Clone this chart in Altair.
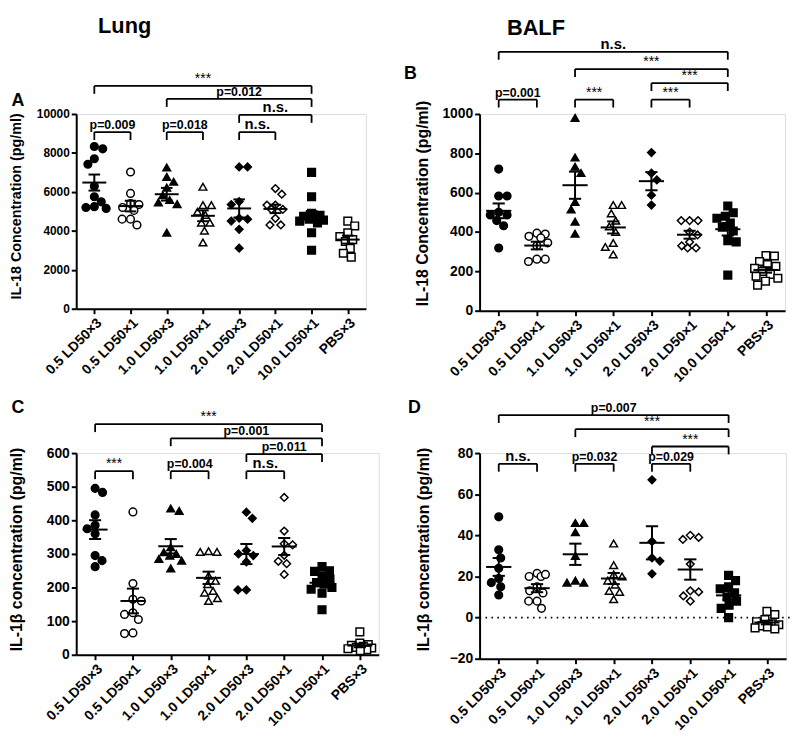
import json
import altair as alt
import numpy as np
import pandas as pd

FONT = "Liberation Sans"

groups = ["0.5 LD50×3", "0.5 LD50×1", "1.0 LD50×3", "1.0 LD50×1",
          "2.0 LD50×3", "2.0 LD50×1", "10.0 LD50×1", "PBS×3"]
shapes = ["circle", "circle", "triangle-up", "triangle-up",
          "diamond", "diamond", "square", "square"]
filled = [True, False, True, False, True, False, True, False]

# IL-18, lung (pg/ml)
lung_il18 = [
    [8330, 8210, 7700, 7420, 6290, 5750, 5490, 5240, 5200, 5150],
    [7020, 5920, 5400, 5350, 5200, 5050, 4600, 4600, 4300],
    [7250, 6770, 6520, 6220, 5830, 5580, 5460, 5370, 3910],
    [6260, 5320, 5320, 4980, 4810, 4420, 4420, 4010, 3400],
    [7280, 7280, 5500, 5350, 4650, 4600, 4500, 4080, 3110],
    [6170, 5880, 5320, 5320, 5100, 5100, 4640, 4300, 4300],
    [7000, 5750, 4900, 4800, 4750, 4700, 4600, 4550, 4500, 4400, 3900, 3000],
    [4500, 4250, 3900, 3700, 3550, 3450, 3100, 2850, 2650],
]
# IL-18, BALF (pg/ml)
balf_il18 = [
    [720, 583, 583, 500, 487, 487, 458, 432, 319],
    [394, 390, 378, 370, 345, 330, 262, 250, 262],
    [980, 779, 732, 700, 553, 515, 453, 391],
    [537, 537, 495, 458, 428, 400, 344, 324, 286],
    [804, 699, 665, 587, 537],
    [458, 458, 458, 400, 385, 349, 330, 319, 319],
    [532, 498, 480, 470, 445, 425, 405, 356, 350, 181],
    [280, 278, 250, 235, 225, 215, 200, 185, 175, 165, 150, 130],
]
# IL-1beta, lung (pg/ml)
lung_il1b = [
    [495, 483, 416, 385, 375, 360, 295, 280, 262],
    [425, 212, 165, 160, 125, 120, 105, 65, 63],
    [435, 428, 320, 305, 300, 295, 285, 280, 257],
    [308, 306, 306, 235, 220, 210, 190, 185, 168, 160],
    [424, 406, 310, 300, 295, 276, 193, 193],
    [468, 368, 330, 327, 296, 278, 271, 239],
    [262, 250, 248, 235, 225, 215, 210, 200, 195, 183, 134],
    [68, 35, 30, 28, 25, 22, 20, 18, 15, 12],
]
# IL-1beta, BALF (pg/ml)
balf_il1b = [
    [49, 33, 29, 24, 19, 17, 15, 11],
    [21.5, 20, 20, 21, 15, 13, 12, 8, 8, 4.5],
    [46, 46, 41.5, 30, 18, 17, 17],
    [36, 25.5, 21, 20, 18, 16, 13, 12.5, 9],
    [67, 37, 29, 27.5, 21.3],
    [40, 39, 38, 26, 13, 12.5, 10.5, 8],
    [20.5, 18, 15, 14, 12, 10, 8, 6, 4.5, 0],
    [3, 1.5, -1, -2, -3, -3.5, -4, -4.5, -5, -5.5],
]

# significance brackets: (group i, group j, label, bracket height in data units)
br_lung_il18 = [(0, 1, "p=0.009", 9070), (2, 3, "p=0.018", 9070), (4, 5, "n.s.", 9070),
                (4, 6, "n.s.", 9950), (2, 6, "p=0.012", 10770), (0, 6, "***", 11440)]
br_balf_il18 = [(0, 1, "p=0.001", 1073), (2, 3, "***", 1073), (4, 5, "***", 1073),
                (4, 6, "***", 1157), (2, 6, "***", 1228), (0, 6, "n.s.", 1316)]
br_lung_il1b = [(0, 1, "***", 546), (2, 3, "p=0.004", 546), (4, 5, "n.s.", 546),
                (4, 6, "p=0.011", 597), (2, 6, "p=0.001", 644), (0, 6, "***", 686)]
br_balf_il1b = [(0, 1, "n.s.", 74.8), (2, 3, "p=0.032", 74.8), (4, 5, "p=0.029", 74.8),
                (4, 6, "***", 83.2), (2, 6, "***", 91.6), (0, 6, "p=0.007", 98.5)]


def swarm(values, ppu, d=8.5, maxoff=12.0):
    """beeswarm offsets (px); symbols may overlap when the column would get too wide"""
    order = np.argsort(-np.array(values, float), kind="stable")
    placed = []
    offs = [0.0] * len(values)
    flip = 1
    for idx in order:
        y = values[idx] * ppu
        cands = [0.0]
        k = 1
        while k * 0.5 <= maxoff:
            cands += [flip * k * 0.5, -flip * k * 0.5]
            k += 1
        chosen, best, bestd = None, 0.0, -1.0
        for c in cands:
            md = min([np.hypot(c - px, y - py) for px, py in placed], default=1e9)
            if md >= d:
                chosen = c
                break
            if md > bestd + 1e-9:
                best, bestd = c, md
        if chosen is None:
            chosen = best
        if chosen != 0:
            flip = -flip
        placed.append((chosen, y))
        offs[idx] = chosen
    return offs


def panel(vals, brackets, ymin, ymax, ystep, w, h, ytitle, tsize, tx, ty, lsize,
          letter, lx, ly, coltitle=None, cx=0, cy=0, zero=False):
    ppu = h / (ymax - ymin)
    ppc = w / len(groups)
    rows = []
    for gi, vs in enumerate(vals):
        offs = swarm(vs, ppu)
        for v, o in zip(vs, offs):
            rows.append(dict(g=groups[gi], xpos=gi + o / ppc, val=v, shp=shapes[gi],
                             fillc="black" if filled[gi] else "white"))
    pts = pd.DataFrame(rows)

    stats = []
    for gi, vs in enumerate(vals):
        a = np.array(vs, float)
        m = a.mean()
        se = a.std(ddof=1) / np.sqrt(len(a))
        stats.append(dict(i=gi, ml=gi - 0.33, mr=gi + 0.33, cl=gi - 0.16, cr=gi + 0.16,
                          mean=m, lo=m - se, hi=m + se))
    st = pd.DataFrame(stats)

    drop = 8 / ppu
    seg, lab = [], []
    for i, j, t, y in brackets:
        seg.append(dict(x=i, x2=j, y=y, y2=y))
        seg.append(dict(x=i, x2=i, y=y, y2=y - drop))
        seg.append(dict(x=j, x2=j, y=y, y2=y - drop))
        kind = "ns" if t == "n.s." else ("star" if t.startswith("*") else "p")
        lab.append(dict(x=(i + j) / 2, y=y, t=t, kind=kind))
    seg = pd.DataFrame(seg)
    lab = pd.DataFrame(lab)

    xs = alt.Scale(domain=[-0.5, len(groups) - 0.5], nice=False, zero=False)
    ys = alt.Scale(domain=[ymin, ymax], nice=False, zero=False)
    xaxis = alt.Axis(values=list(range(len(groups))),
                     labelExpr=json.dumps(groups, ensure_ascii=False) + "[datum.value]",
                     labelAngle=315, labelAlign="right", labelBaseline="top",
                     labelFontSize=14, labelFontWeight="bold", labelPadding=2,
                     grid=False, domainWidth=2, tickWidth=2, tickSize=5,
                     domainColor="black", tickColor="black", labelColor="black",
                     labelOverlap=False, labelFont=FONT, title=None)
    yaxis = alt.Axis(values=list(range(ymin, ymax + 1, ystep)), format="d",
                     labelFontSize=lsize, labelFontWeight="bold", labelFont=FONT,
                     labelColor="black", labelPadding=2, labelOverlap=False,
                     grid=False, domainWidth=2, tickWidth=2, tickSize=5,
                     domainColor="black", tickColor="black",
                     title=ytitle, titleFont=FONT, titleFontSize=tsize, titleFontWeight="bold",
                     titleColor="black", titleAngle=270, titleX=tx, titleY=ty,
                     titleAlign="center", titleBaseline="middle")

    X = lambda f: alt.X(f, scale=xs, axis=xaxis)
    Y = lambda f: alt.Y(f, scale=ys, axis=yaxis)

    points = alt.Chart(pts).mark_point(filled=True, size=60, stroke="black",
                                       strokeWidth=1.5, opacity=1).encode(
        x=X("xpos:Q"),
        y=Y("val:Q"),
        shape=alt.Shape("shp:N", scale=None),
        fill=alt.Fill("fillc:N", scale=None),
    )
    layers = [points]
    if zero:
        zl = pd.DataFrame({"x": [-0.5], "x2": [len(groups) - 0.4], "y": [0]})
        layers.insert(0, alt.Chart(zl).mark_rule(color="black", strokeWidth=1.6,
                                                 strokeDash=[1.6, 4.4]).encode(
            x=X("x:Q"), x2="x2:Q", y=Y("y:Q")))
    base = alt.Chart(st)
    layers += [
        base.mark_rule(color="black", strokeWidth=2).encode(x=X("ml:Q"), x2="mr:Q", y=Y("mean:Q")),
        base.mark_rule(color="black", strokeWidth=2).encode(x=X("i:Q"), y=Y("lo:Q"), y2="hi:Q"),
        base.mark_rule(color="black", strokeWidth=2).encode(x=X("cl:Q"), x2="cr:Q", y=Y("hi:Q")),
        base.mark_rule(color="black", strokeWidth=2).encode(x=X("cl:Q"), x2="cr:Q", y=Y("lo:Q")),
        alt.Chart(seg).mark_rule(color="black", strokeWidth=1.8).encode(
            x=X("x:Q"), x2="x2:Q", y=Y("y:Q"), y2="y2:Q"),
    ]
    styles = {"ns": dict(fontSize=15, fontWeight="bold"),
              "p": dict(fontSize=12.5, fontWeight="bold"),
              "star": dict(fontSize=14, fontWeight="normal")}
    for kind, sty in styles.items():
        sub = lab[lab.kind == kind]
        if len(sub):
            layers.append(alt.Chart(sub).mark_text(font=FONT, color="black", baseline="alphabetic",
                                                   dy=-3, **sty).encode(
                x=X("x:Q"), y=Y("y:Q"), text="t:N"))
    one = pd.DataFrame({"t": [letter]})
    layers.append(alt.Chart(one).mark_text(font=FONT, fontSize=18, fontWeight="bold", color="black",
                                           align="center", baseline="middle").encode(
        x=alt.value(lx), y=alt.value(ly), text="t:N"))
    if coltitle:
        ct = pd.DataFrame({"t": [coltitle]})
        layers.append(alt.Chart(ct).mark_text(font=FONT, fontSize=22, fontWeight="bold", color="black",
                                              align="center", baseline="alphabetic").encode(
            x=alt.value(cx), y=alt.value(cy), text="t:N"))
    return alt.layer(*layers).properties(width=w, height=h)


A = panel(lung_il18, br_lung_il18, 0, 10000, 2000, 293, 197, "IL-18 Concentration (pg/ml)", 14.5,
          -60, 93, 12, "A", -59, -13, "Lung", 49, -82)
B = panel(balf_il18, br_balf_il18, 0, 1000, 200, 309, 199, "IL-18 Concentration (pg/ml)", 16,
          -58, 90, 14, "B", -70, -40, "BALF", 57, -80)
C = panel(lung_il1b, br_lung_il1b, 0, 600, 100, 306, 204, "IL-1β concentration (pg/ml)", 16,
          -60, 97, 14, "C", -59, -46)
D = panel(balf_il1b, br_balf_il1b, -20, 80, 20, 310, 208, "IL-1β concentration (pg/ml)", 16,
          -57, 97, 14, "D", -66, -46, zero=True)

chart = alt.concat(A, B, C, D, columns=2, bounds="flush",
                   spacing={"row": 144, "column": 102}).properties(
    padding={"left": 0, "top": 2, "right": 0, "bottom": 0}
).configure_view(stroke=None).configure(font=FONT)

chart.save("out.html", embed_options={"renderer": "svg", "actions": False})
